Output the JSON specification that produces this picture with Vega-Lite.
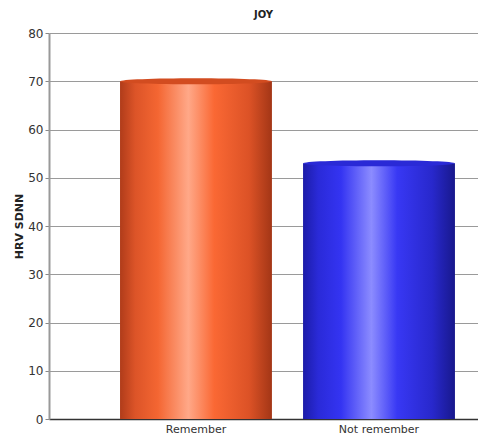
{
  "$schema": "https://vega.github.io/schema/vega-lite/v6.json",
  "width": 429,
  "height": 386,
  "autosize": "none",
  "padding": {"left": 49, "top": 33, "right": 0, "bottom": 15},
  "background": "white",
  "title": {
    "text": "JOY",
    "fontSize": 10,
    "fontWeight": "bold",
    "font": "DejaVu Sans",
    "color": "#222",
    "offset": 7,
    "anchor": "middle"
  },
  "data": {
    "values": [
      {"group": "Remember", "sdnn": 70},
      {"group": "Not remember", "sdnn": 53}
    ]
  },
  "encoding": {
    "x": {
      "field": "group",
      "type": "nominal",
      "sort": ["Remember", "Not remember"],
      "scale": {"paddingInner": 0.17, "paddingOuter": 0.257, "align": 0.755},
      "axis": {
        "title": null,
        "labelAngle": 0,
        "labelFont": "DejaVu Sans",
        "labelFontSize": 11,
        "labelColor": "#333",
        "labelPadding": 4,
        "ticks": false,
        "domainColor": "#333",
        "domainWidth": 1.5
      }
    },
    "y": {
      "field": "sdnn",
      "type": "quantitative",
      "scale": {"domain": [0, 80], "nice": false},
      "axis": {
        "title": "HRV  SDNN",
        "titleFont": "DejaVu Sans",
        "titleFontSize": 11,
        "titleFontWeight": "bold",
        "titleColor": "#222",
        "titlePadding": 3,
        "values": [0, 10, 20, 30, 40, 50, 60, 70, 80],
        "labelFont": "DejaVu Sans",
        "labelFontSize": 12,
        "labelColor": "#333",
        "labelPadding": 2,
        "tickSize": 4,
        "tickColor": "#888",
        "domainColor": "#999",
        "domainWidth": 2,
        "gridColor": "#9a9a9a",
        "gridWidth": 1
      }
    }
  },
  "layer": [
    {
      "transform": [{"filter": "datum.group === 'Remember'"}],
      "mark": {
        "type": "bar",
        "color": {
          "gradient": "linear",
          "x1": 0, "y1": 0, "x2": 1, "y2": 0,
          "stops": [
            {"offset": 0, "color": "#b03c1a"},
            {"offset": 0.1, "color": "#dc5428"},
            {"offset": 0.25, "color": "#f46632"},
            {"offset": 0.45, "color": "#ffa888"},
            {"offset": 0.62, "color": "#fa6834"},
            {"offset": 0.85, "color": "#dc5226"},
            {"offset": 1, "color": "#a33616"}
          ]
        }
      }
    },
    {
      "transform": [{"filter": "datum.group === 'Not remember'"}],
      "mark": {
        "type": "bar",
        "color": {
          "gradient": "linear",
          "x1": 0, "y1": 0, "x2": 1, "y2": 0,
          "stops": [
            {"offset": 0, "color": "#1c1ca8"},
            {"offset": 0.1, "color": "#2a2ad8"},
            {"offset": 0.25, "color": "#3434f2"},
            {"offset": 0.45, "color": "#8c8cff"},
            {"offset": 0.62, "color": "#3838f4"},
            {"offset": 0.85, "color": "#2828cc"},
            {"offset": 1, "color": "#18188c"}
          ]
        }
      }
    },
    {
      "transform": [{"filter": "datum.group === 'Remember'"}],
      "mark": {
        "type": "point",
        "filled": true,
        "opacity": 1,
        "size": 23104,
        "shape": "M -1 0 A 1 0.04 0 1 0 1 0 A 1 0.04 0 1 0 -1 0 Z",
        "color": "#d24c20"
      }
    },
    {
      "transform": [{"filter": "datum.group === 'Not remember'"}],
      "mark": {
        "type": "point",
        "filled": true,
        "opacity": 1,
        "size": 23104,
        "shape": "M -1 0 A 1 0.04 0 1 0 1 0 A 1 0.04 0 1 0 -1 0 Z",
        "color": "#2a2ad6"
      }
    }
  ],
  "config": {
    "view": {"stroke": null}
  }
}
